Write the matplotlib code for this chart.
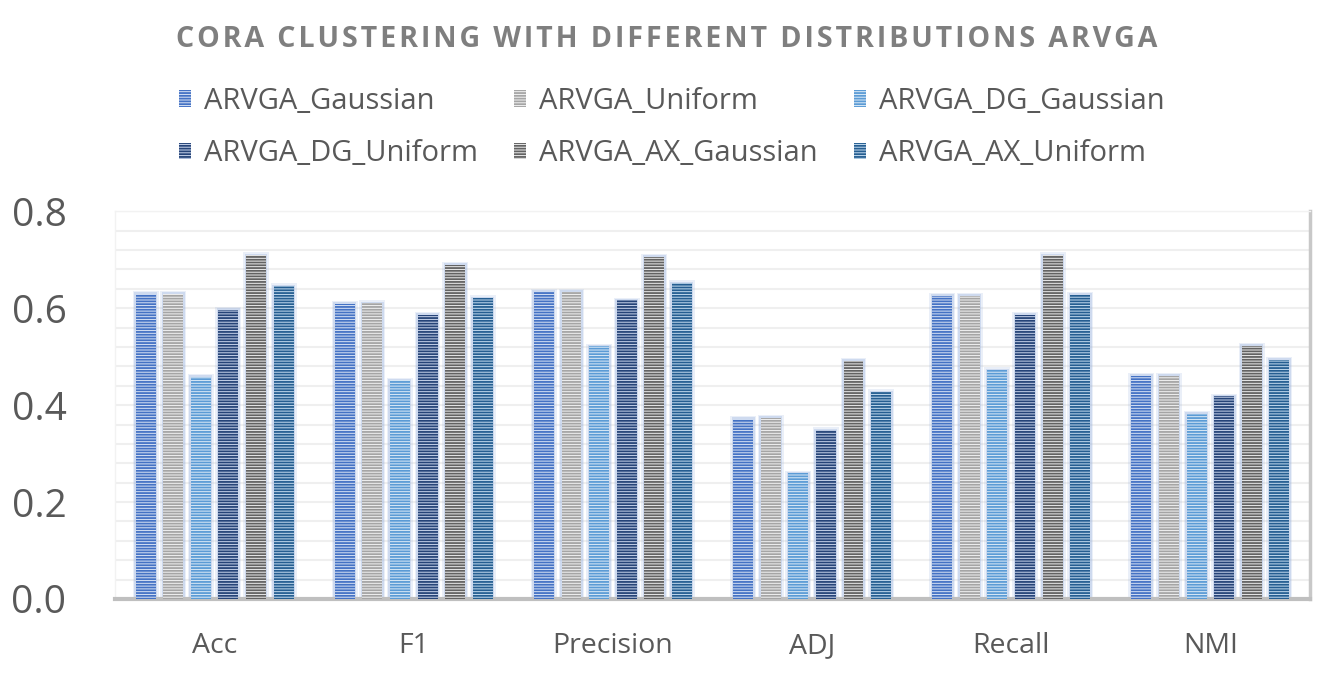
import matplotlib
matplotlib.use("Agg")
import matplotlib.pyplot as plt
import numpy as np
from matplotlib.patches import Patch

categories = ["Acc", "F1", "Precision", "ADJ", "Recall", "NMI"]
series_names = ["ARVGA_Gaussian", "ARVGA_Uniform", "ARVGA_DG_Gaussian",
                "ARVGA_DG_Uniform", "ARVGA_AX_Gaussian", "ARVGA_AX_Uniform"]
arvga_gaussian = [0.630, 0.609, 0.634, 0.372, 0.626, 0.461]
arvga_uniform = [0.630, 0.610, 0.634, 0.374, 0.626, 0.461]
arvga_dg_gaussian = [0.459, 0.451, 0.521, 0.259, 0.472, 0.382]
arvga_dg_uniform = [0.597, 0.587, 0.616, 0.348, 0.587, 0.418]
arvga_ax_gaussian = [0.709, 0.690, 0.706, 0.492, 0.709, 0.523]
arvga_ax_uniform = [0.645, 0.621, 0.652, 0.427, 0.628, 0.494]
series_values = [arvga_gaussian, arvga_uniform, arvga_dg_gaussian,
                 arvga_dg_uniform, arvga_ax_gaussian, arvga_ax_uniform]
y_ticks = [0.0, 0.2, 0.4, 0.6, 0.8]
title = "CORA CLUSTERING WITH DIFFERENT DISTRIBUTIONS ARVGA"

hatch_colors = ["#4472C4", "#A5A5A5", "#5B9BD5", "#264478", "#636363", "#255E91"]
face_colors = ["#D9E3F5", "#F2F2F2", "#DDEBF7", "#C9D5EC", "#EDEDED", "#C5DCF0"]

plt.rcParams['font.family'] = ['Open Sans', 'DejaVu Sans']
plt.rcParams['hatch.linewidth'] = 1.3

fig = plt.figure(figsize=(13.34, 6.75), dpi=100)
ax = fig.add_axes([0.0862, 0.1126, 0.8958, 0.5744])

x = np.arange(len(categories))
pitch = 0.1386
width = 0.10
handles = []
for i, (vals, hc, fc, name) in enumerate(zip(series_values, hatch_colors, face_colors, series_names)):
    pos = x + (i - 2.5) * pitch
    ax.bar(pos, np.array(vals) + 0.006, width=width + 0.03, color="#8FAADC",
           alpha=0.18, linewidth=0, zorder=2)
    ax.bar(pos, np.array(vals) + 0.003, width=width + 0.015, color="#8FAADC",
           alpha=0.3, linewidth=0, zorder=2)
    ax.bar(pos, vals, width=width, facecolor=fc, edgecolor=hc, hatch="------",
           linewidth=0, zorder=3)
    handles.append(Patch(facecolor=fc, edgecolor=hc, hatch="------", linewidth=0, label=name))

ax.set_xlim(-0.5, len(categories) - 0.5)
ax.set_ylim(0, 0.8)
ax.set_yticks(y_ticks)
ax.set_yticklabels([f"{v:.1f}" for v in y_ticks])
ax.set_yticks(np.arange(0, 0.8001, 0.04), minor=True)
ax.set_xticks(x)
ax.set_xticklabels(categories)
ax.tick_params(axis='y', which='both', length=0, labelsize=28, labelcolor="#595959", pad=35)
ax.tick_params(axis='x', length=0, labelsize=20.5, labelcolor="#595959", pad=24)
ax.grid(axis='y', which='both', color="#EFEFEF", linewidth=1.5, zorder=0)
ax.set_axisbelow(True)
for s in ['top', 'left']:
    ax.spines[s].set_color("#F2F2F2")
    ax.spines[s].set_linewidth(1)
ax.spines['right'].set_color("#C8C8C8")
ax.spines['right'].set_linewidth(2.5)
ax.spines['bottom'].set_color("#BFBFBF")
ax.spines['bottom'].set_linewidth(3)

order = [0, 3, 1, 4, 2, 5]
leg = fig.legend([handles[k] for k in order], [series_names[k] for k in order],
                 ncol=3, loc='center', bbox_to_anchor=(0.5035, 0.811),
                 frameon=False, fontsize=21, handlelength=0.4, handleheight=0.5,
                 handletextpad=0.45, columnspacing=1.25, labelspacing=0.8,
                 labelcolor="#595959")

# title with letter spacing (hair spaces between letters)
spaced = "\u200a".join(title)
fig.text(0.4995, 0.941, spaced,
         ha='center', va='center', fontsize=20.6, fontweight='bold',
         color="#7F7F7F")

fig.savefig("out.png", dpi=100)
